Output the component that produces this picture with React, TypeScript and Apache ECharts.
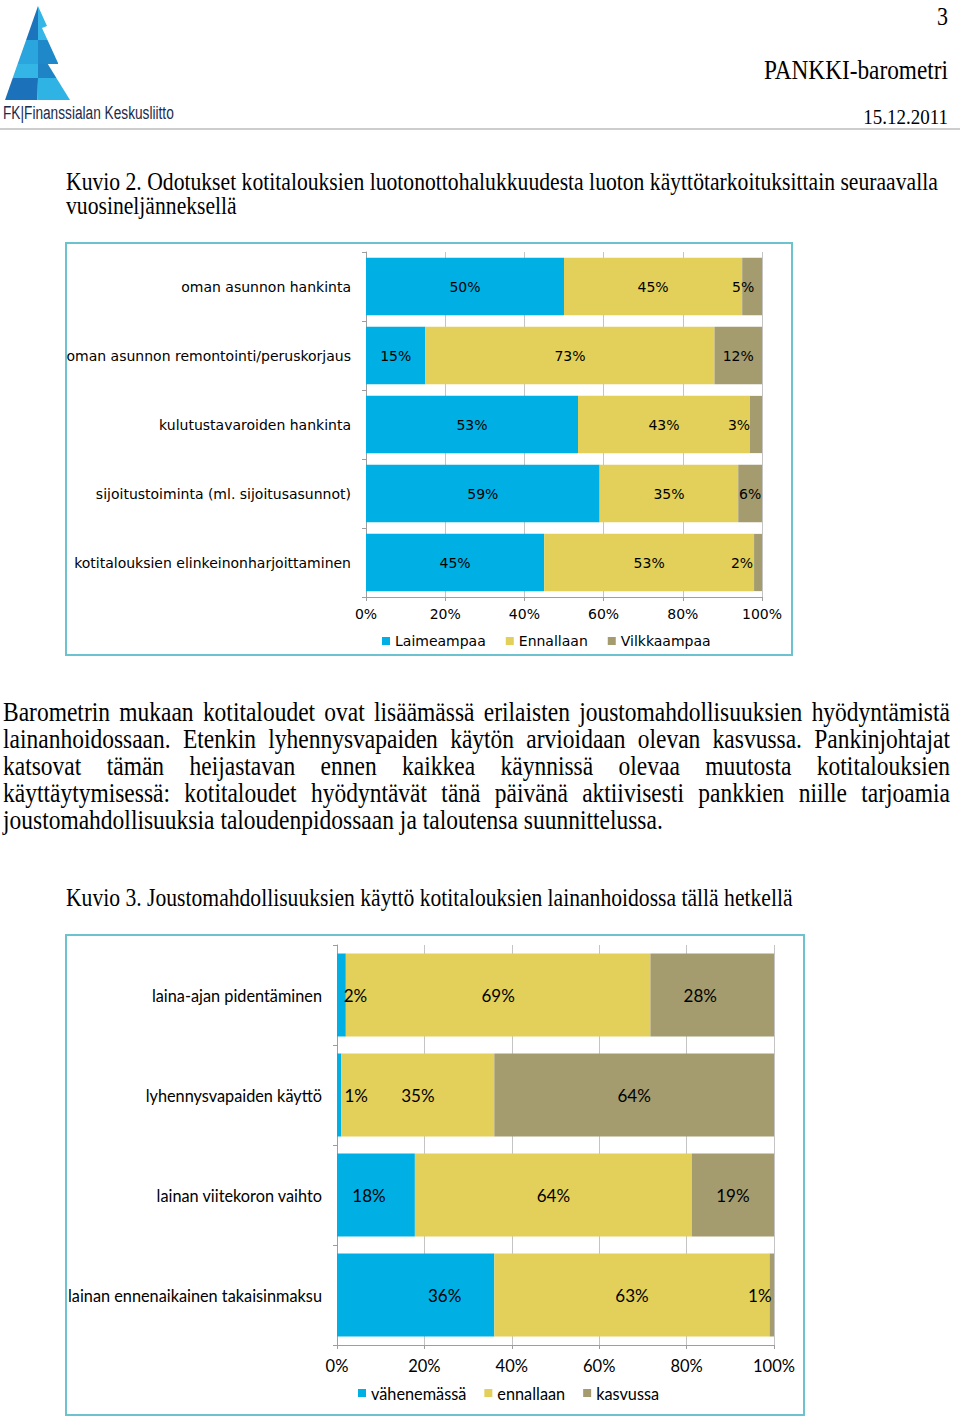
import React, { useEffect, useRef } from "react";
import * as echarts from "echarts";

// ---------- data ----------
const chart1Categories = [
  "oman asunnon hankinta",
  "oman asunnon remontointi/peruskorjaus",
  "kulutustavaroiden hankinta",
  "sijoitustoiminta (ml. sijoitusasunnot)",
  "kotitalouksien elinkeinonharjoittaminen",
];
const chart1SeriesNames = ["Laimeampaa", "Ennallaan", "Vilkkaampaa"];
const chart1Laimeampaa = [50, 15, 53, 59, 45];
const chart1Ennallaan = [45, 73, 43, 35, 53];
const chart1Vilkkaampaa = [5, 12, 3, 6, 2];

const chart2Categories = [
  "laina-ajan pidentäminen",
  "lyhennysvapaiden käyttö",
  "lainan viitekoron vaihto",
  "lainan ennenaikainen takaisinmaksu",
];
const chart2SeriesNames = ["vähenemässä", "ennallaan", "kasvussa"];
const chart2Vahenemassa = [2, 1, 18, 36];
const chart2Ennallaan = [69, 35, 64, 63];
const chart2Kasvussa = [28, 64, 19, 1];

const axisMin = 0;
const axisMax = 100;
const axisStep = 20;

// ---------- page texts ----------
const pageNumber = "3";
const headerTitle = "PANKKI-barometri";
const headerDate = "15.12.2011";
const logoText = "FK|Finanssialan Keskusliitto";
const caption2Lines = [
  "Kuvio 2. Odotukset kotitalouksien luotonottohalukkuudesta luoton käyttötarkoituksittain seuraavalla",
  "vuosineljänneksellä",
];
const paragraphLines = [
  "Barometrin mukaan kotitaloudet ovat lisäämässä erilaisten joustomahdollisuuksien hyödyntämistä",
  "lainanhoidossaan. Etenkin lyhennysvapaiden käytön arvioidaan olevan kasvussa. Pankinjohtajat",
  "katsovat tämän heijastavan ennen kaikkea käynnissä olevaa muutosta kotitalouksien",
  "käyttäytymisessä: kotitaloudet hyödyntävät tänä päivänä aktiivisesti pankkien niille tarjoamia",
  "joustomahdollisuuksia taloudenpidossaan ja taloutensa suunnittelussa.",
];
const caption3 = "Kuvio 3. Joustomahdollisuuksien käyttö kotitalouksien lainanhoidossa tällä hetkellä";

// ---------- styles (kept apart from data) ----------
const BLUE = "#00B0E4";
const YELLOW = "#E3D05A";
const KHAKI = "#A49B6E";
const FRAME = "#6CC2CF";
const GRID = "#C4C4C4";
const AXIS = "#9E9E9E";
const SERIF = '"Liberation Serif", "Times New Roman", serif';
const SANS1 = '"DejaVu Sans", Verdana, sans-serif';
const SANS2 = 'Lato, "Liberation Sans", sans-serif';
const SERIF_SIZE = 23.5;
const SERIF_SCALE_Y = 1.15;

const chart1Nudge = [
  [0, 0, 0, 0, 0],
  [0, 0, 0, 0, 0],
  [-9, 0, -17, 0, -16],
];
const chart2Nudge = [
  [14, 17, -7, 29],
  [0, 0, 0, 0],
  [-12, 0, 0, -12],
];

function measure(text: string, font: string): number {
  const c = document.createElement("canvas").getContext("2d");
  if (!c) return text.length * 10;
  c.font = font;
  return c.measureText(text).width;
}

function fitSize(text: string, targetWidth: number): number {
  const w = measure(text, `${SERIF_SIZE}px "Liberation Serif"`);
  if (!w) return SERIF_SIZE;
  return (SERIF_SIZE * targetWidth) / w;
}

function serifText(text: string, x: number, y: number, size: number, align = "left") {
  return {
    type: "text",
    x,
    y,
    scaleY: SERIF_SCALE_Y,
    style: {
      text,
      fontFamily: SERIF,
      fontSize: size,
      fill: "#000",
      align,
      verticalAlign: "middle",
    },
  };
}

function paragraphElements(lines: string[], left: number, right: number, top: number, lh: number) {
  const font = `${SERIF_SIZE}px "Liberation Serif"`;
  const els: any[] = [];
  const width = right - left;
  const space = measure(" ", font);
  lines.forEach((line, li) => {
    const words = line.split(" ");
    const ws = words.map((w) => measure(w, font));
    const total = ws.reduce((a, b) => a + b, 0);
    const justify = li < lines.length - 1;
    let gap = justify && words.length > 1 ? (width - total) / (words.length - 1) : space;
    if (gap < space * 0.6) gap = space;
    let x = left;
    const y = top + li * lh;
    words.forEach((w, wi) => {
      els.push(serifText(w, x, y, SERIF_SIZE));
      x += ws[wi] + gap;
    });
  });
  return els;
}

function logoElements() {
  const poly = (points: number[][], fill: string) => ({
    type: "polygon",
    shape: { points },
    style: { fill },
  });
  return [
    poly([[38, 6], [38, 40], [26.1, 40]], "#1B74BC"),
    poly([[38, 6], [47, 26], [42, 28], [47.5, 40], [38, 40]], "#35B6E7"),
    poly([[26.1, 40], [38, 40], [38, 64], [17.6, 64]], "#2AA5DE"),
    poly([[38, 40], [47.5, 40], [58, 63], [58, 64], [38, 64]], "#1E88C9"),
    poly([[17.6, 64], [38, 64], [38, 78], [12.7, 78]], "#33B5E6"),
    poly([[38, 64], [47.8, 64], [56.4, 78], [38, 78]], "#1F84C6"),
    poly([[12.7, 78], [38, 78], [37.5, 100], [5, 100]], "#1B72BA"),
    poly([[38, 78], [56.4, 78], [70, 100], [37.5, 100]], "#2FB3E5"),
    {
      type: "text",
      x: 3,
      y: 113,
      scaleX: 0.72,
      style: {
        text: logoText,
        fontFamily: '"Liberation Sans", Arial, sans-serif',
        fontSize: 19,
        fill: "#1B2B4B",
        align: "left",
        verticalAlign: "middle",
      },
    },
  ];
}

function makeSeries(
  names: string[],
  arrays: number[][],
  colors: string[],
  nudges: number[][],
  axisIndex: number,
  stack: string,
  font: string,
  size: number,
  gap: string
) {
  const n = arrays[0].length;
  const sums = Array.from({ length: n }, (_, i) => arrays.reduce((s, a) => s + a[i], 0));
  return arrays.map((arr, si) => ({
    name: names[si],
    type: "bar",
    stack,
    xAxisIndex: axisIndex,
    yAxisIndex: axisIndex,
    barCategoryGap: gap,
    itemStyle: { color: colors[si] },
    label: {
      show: true,
      position: "inside",
      fontFamily: font,
      fontSize: size,
      color: "#000",
      formatter: (p: any) => `${p.data.raw}%`,
    },
    data: arr.map((v, i) => ({
      value: (v / sums[i]) * 100,
      raw: v,
      label: { offset: [nudges[si][i], 0] },
    })),
  }));
}

function xAxisCfg(gridIndex: number, font: string, size: number, margin: number) {
  return {
    gridIndex,
    type: "value",
    min: axisMin,
    max: axisMax,
    interval: axisStep,
    axisLabel: { formatter: "{value}%", fontFamily: font, fontSize: size, color: "#000", margin },
    splitLine: { show: true, lineStyle: { color: GRID, width: 1 } },
    axisLine: { show: true, lineStyle: { color: AXIS } },
    axisTick: { show: true, length: 4, lineStyle: { color: AXIS } },
  };
}

function yAxisCfg(gridIndex: number, cats: string[], font: string, size: number) {
  return {
    gridIndex,
    type: "category",
    inverse: true,
    data: cats,
    axisLine: { show: true, lineStyle: { color: AXIS } },
    axisTick: { show: true, length: 4, lineStyle: { color: AXIS } },
    axisLabel: { fontFamily: font, fontSize: size, color: "#000", margin: 15 },
  };
}

export default function App() {
  const ref = useRef<HTMLDivElement>(null);
  useEffect(() => {
    if (!ref.current) return;
    const chart = echarts.init(ref.current, undefined, { renderer: "svg" });
    const cap2Size = fitSize(caption2Lines[0], 872);
    const cap3Size = fitSize(caption3, 727);
    const graphic: any[] = [
      ...logoElements(),
      { type: "line", shape: { x1: 0, y1: 129, x2: 960, y2: 129 }, style: { stroke: "#BDBDBD", lineWidth: 1.5 } },
      serifText(pageNumber, 948, 16, 22, "right"),
      serifText(headerTitle, 948, 70, 23.3, "right"),
      serifText(headerDate, 948, 117, 19, "right"),
      serifText(caption2Lines[0], 66, 181, cap2Size),
      serifText(caption2Lines[1], 66, 205, cap2Size),
      ...paragraphElements(paragraphLines, 3, 950, 711, 27.2),
      serifText(caption3, 66, 897, cap3Size),
      { type: "rect", shape: { x: 66, y: 243, width: 726, height: 412 }, style: { fill: "none", stroke: FRAME, lineWidth: 2 } },
      { type: "rect", shape: { x: 66, y: 935, width: 738, height: 480 }, style: { fill: "none", stroke: FRAME, lineWidth: 2 } },
    ];
    const option: any = {
      animation: false,
      backgroundColor: "#fff",
      grid: [
        { left: 366, top: 252, width: 396, height: 345 },
        { left: 337, top: 945, width: 437, height: 400 },
      ],
      xAxis: [xAxisCfg(0, SANS1, 14, 10), xAxisCfg(1, SANS2, 16.5, 12)],
      yAxis: [yAxisCfg(0, chart1Categories, SANS1, 14), yAxisCfg(1, chart2Categories, SANS2, 16.3)],
      legend: [
        {
          data: chart1SeriesNames,
          left: 382,
          top: 634,
          padding: 0,
          icon: "rect",
          itemWidth: 8,
          itemHeight: 8,
          itemGap: 20,
          textStyle: { fontFamily: SANS1, fontSize: 14, color: "#000" },
        },
        {
          data: chart2SeriesNames,
          left: 358,
          top: 1385,
          padding: 0,
          icon: "rect",
          itemWidth: 8,
          itemHeight: 8,
          itemGap: 18,
          textStyle: { fontFamily: SANS2, fontSize: 16.3, color: "#000" },
        },
      ],
      series: [
        ...makeSeries(
          chart1SeriesNames,
          [chart1Laimeampaa, chart1Ennallaan, chart1Vilkkaampaa],
          [BLUE, YELLOW, KHAKI],
          chart1Nudge,
          0,
          "c1",
          SANS1,
          14,
          "17%"
        ),
        ...makeSeries(
          chart2SeriesNames,
          [chart2Vahenemassa, chart2Ennallaan, chart2Kasvussa],
          [BLUE, YELLOW, KHAKI],
          chart2Nudge,
          1,
          "c2",
          SANS2,
          17,
          "17%"
        ),
      ],
      graphic,
    };
    chart.setOption(option);
    return () => chart.dispose();
  }, []);
  return (
    <div
      ref={ref}
      style={{ position: "absolute", left: 0, top: 0, width: 960, height: 1422, background: "#fff" }}
    />
  );
}
